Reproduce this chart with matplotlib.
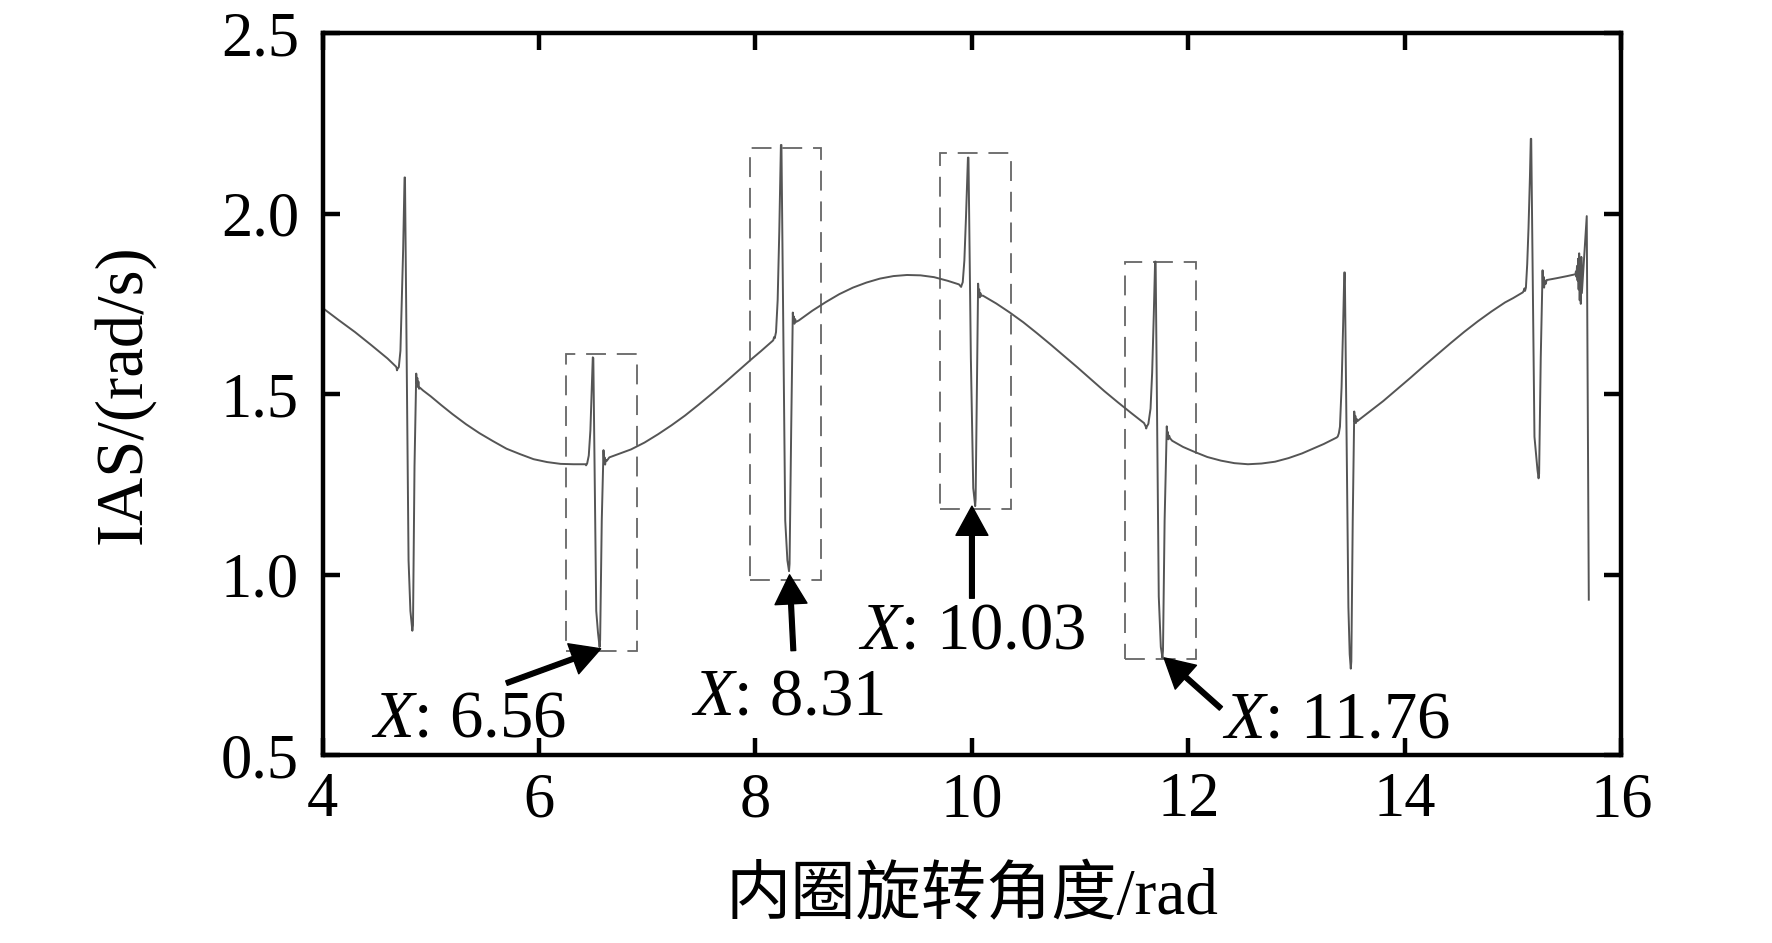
import numpy as np
import matplotlib
matplotlib.use('Agg')
import matplotlib.pyplot as plt
from matplotlib.patches import Rectangle

# ================= 样式 =================
plt.rcParams['font.family'] = ['Liberation Serif', 'Noto Sans CJK SC']
plt.rcParams['mathtext.fontset'] = 'custom'
plt.rcParams['mathtext.rm'] = 'Liberation Serif'
plt.rcParams['mathtext.it'] = 'Liberation Serif:italic'

# ================= 数据 =================
# 内圈旋转角度 / rad
angle = [
    4.00, 4.15, 4.30, 4.45, 4.60, 4.68,
    # 冲击 1
    4.685, 4.688, 4.693, 4.705, 4.72, 4.733, 4.745, 4.758, 4.762, 4.795, 4.812,
    4.830, 4.836, 4.850, 4.866, 4.871, 4.876, 4.881, 4.886, 4.892, 4.90, 4.93,
    5.00, 5.10, 5.20, 5.325, 5.45, 5.575, 5.70, 5.825, 5.95, 6.075, 6.20, 6.32,
    6.43,
    # 冲击 2
    6.435, 6.445, 6.46, 6.475, 6.488, 6.497, 6.502, 6.529, 6.545, 6.560, 6.565,
    6.580, 6.596, 6.601, 6.606, 6.611, 6.617, 6.625, 6.65,
    6.85, 6.975, 7.10, 7.225, 7.35, 7.475, 7.60, 7.725, 7.85, 7.975, 8.05, 8.16,
    # 冲击 3
    8.165, 8.172, 8.178, 8.19, 8.205, 8.22, 8.235, 8.24, 8.275, 8.295, 8.310,
    8.315, 8.33, 8.345, 8.350, 8.355, 8.360, 8.366, 8.375, 8.40,
    8.525, 8.65, 8.775, 8.90, 9.025, 9.15, 9.275, 9.40, 9.525, 9.65, 9.775, 9.88,
    # 冲击 4
    9.90, 9.905, 9.915, 9.93, 9.945, 9.963, 9.968, 9.99, 10.012, 10.030, 10.034,
    10.045, 10.057, 10.062, 10.067, 10.072, 10.078, 10.085, 10.10,
    10.225, 10.35, 10.475, 10.60, 10.725, 10.85, 10.975, 11.10, 11.225, 11.35,
    11.475, 11.59,
    # 冲击 5
    11.605, 11.61, 11.615, 11.63, 11.65, 11.665, 11.68, 11.692, 11.697, 11.726,
    11.745, 11.760, 11.765, 11.78, 11.800, 11.805, 11.810, 11.815, 11.822, 11.83,
    11.85,
    11.95, 12.05, 12.175, 12.30, 12.425, 12.55, 12.675, 12.80, 12.925, 13.05,
    13.15, 13.25, 13.37,
    # 冲击 6
    13.38, 13.39, 13.40, 13.415, 13.43, 13.440, 13.445, 13.478, 13.49, 13.500,
    13.505, 13.518, 13.532, 13.537, 13.542, 13.547, 13.553, 13.56, 13.58,
    13.80, 13.925, 14.05, 14.175, 14.30, 14.425, 14.55, 14.675, 14.80, 14.925,
    15.00, 15.09,
    # 冲击 7
    15.10, 15.105, 15.11, 15.118, 15.13, 15.142, 15.155, 15.163, 15.167, 15.197,
    15.225, 15.235, 15.240, 15.255, 15.272, 15.276, 15.281, 15.286, 15.292, 15.30,
    15.31,
    15.40, 15.50, 15.575,
    # 末端
    15.58, 15.585, 15.59, 15.595, 15.60, 15.605, 15.61, 15.615, 15.62, 15.625,
    15.63, 15.635, 15.68, 15.699,
]
# IAS / (rad/s)
ias = [
    1.739, 1.705, 1.672, 1.636, 1.599, 1.576,
    1.572, 1.566, 1.570, 1.575, 1.62, 1.76, 1.90, 2.10, 2.10, 1.04, 0.90,
    0.845, 0.86, 1.30, 1.557, 1.53, 1.545, 1.52, 1.535, 1.515, 1.518, 1.510,
    1.494, 1.469, 1.445, 1.417, 1.392, 1.370, 1.349, 1.334, 1.320, 1.312, 1.307,
    1.306, 1.306,
    1.303, 1.308, 1.33, 1.40, 1.52, 1.602, 1.60, 0.90, 0.84, 0.80, 0.82,
    1.15, 1.345, 1.31, 1.325, 1.305, 1.318, 1.315, 1.325,
    1.347, 1.366, 1.389, 1.414, 1.441, 1.471, 1.502, 1.534, 1.567, 1.600, 1.619,
    1.648,
    1.650, 1.658, 1.655, 1.672, 1.76, 1.95, 2.19, 2.19, 1.15, 1.04, 1.01,
    1.03, 1.40, 1.726, 1.70, 1.715, 1.695, 1.708, 1.70, 1.704,
    1.731, 1.755, 1.777, 1.795, 1.809, 1.820, 1.827, 1.830, 1.829, 1.824, 1.814,
    1.804,
    1.797, 1.802, 1.81, 1.87, 1.99, 2.155, 2.155, 1.60, 1.24, 1.19, 1.21,
    1.50, 1.806, 1.775, 1.79, 1.768, 1.78, 1.772, 1.773,
    1.751, 1.726, 1.699, 1.669, 1.638, 1.606, 1.574, 1.541, 1.508, 1.477,
    1.447, 1.420,
    1.411, 1.405, 1.410, 1.418, 1.46, 1.56, 1.72, 1.867, 1.867, 0.94,
    0.80, 0.77, 0.79, 1.15, 1.411, 1.385, 1.395, 1.375, 1.385, 1.378,
    1.371,
    1.354, 1.341, 1.326, 1.316, 1.309, 1.306, 1.308, 1.313, 1.323, 1.336,
    1.349, 1.362, 1.380,
    1.383, 1.392, 1.41, 1.52, 1.70, 1.837, 1.837, 0.91, 0.78, 0.74,
    0.76, 1.15, 1.452, 1.425, 1.44, 1.42, 1.432, 1.425, 1.43,
    1.481, 1.513, 1.545, 1.578, 1.610, 1.642, 1.673, 1.702, 1.729, 1.754,
    1.766, 1.782,
    1.788, 1.793, 1.786, 1.795, 1.86, 1.96, 2.10, 2.207, 2.207, 1.382,
    1.29, 1.267, 1.28, 1.60, 1.843, 1.80, 1.825, 1.795, 1.815, 1.805,
    1.816,
    1.821, 1.827, 1.832,
    1.84, 1.825, 1.855, 1.815, 1.875, 1.79, 1.89, 1.76, 1.86, 1.75,
    1.88, 1.78, 1.993, 0.931,
]

# 虚线框
box_left = [6.25, 7.95, 9.706, 11.418]
box_right = [6.91, 8.607, 10.36, 12.071]
box_bottom = [0.79, 0.985, 1.183, 0.766]
box_top = [1.612, 2.182, 2.167, 1.867]

# 标注
label_value = ['6.56', '8.31', '10.03', '11.76']
label_x = [4.45, 7.40, 8.95, 12.31]
label_y = [0.552, 0.612, 0.795, 0.550]
tail_x = [5.70, 8.35, 10.00, 12.30]
tail_y = [0.70, 0.79, 0.935, 0.63]
tip_x = [6.57, 8.315, 10.00, 11.775]
tip_y = [0.795, 1.00, 1.19, 0.77]

xticks = [4, 6, 8, 10, 12, 14, 16]
yticks = [0.5, 1.0, 1.5, 2.0, 2.5]

# ================= 绘图 =================
fig = plt.figure(figsize=(17.72, 9.43), dpi=100)
ax = fig.add_axes([0.182, 0.199, 0.733, 0.766])

ax.plot(angle, ias, color='#555555', linewidth=1.4)

for l, r, b, t in zip(box_left, box_right, box_bottom, box_top):
    ax.add_patch(Rectangle((l, b), r - l, t - b, fill=False, edgecolor='#666666',
                           linewidth=1.3, linestyle=(0, (11, 6))))

for v, lx, ly, ax0, ay0, ax1, ay1 in zip(label_value, label_x, label_y,
                                         tail_x, tail_y, tip_x, tip_y):
    ax.annotate('', xy=(ax1, ay1), xytext=(ax0, ay0),
                arrowprops=dict(facecolor='black', edgecolor='black', width=3.4,
                                headwidth=23, headlength=21, shrink=0))
    ax.text(lx, ly, r'$X$: ' + v, fontsize=48, ha='left', va='baseline')

ax.set_xlim(4, 16)
ax.set_ylim(0.5, 2.5)
ax.set_xticks(xticks)
ax.set_yticks(yticks)
ax.set_yticklabels([f'{v:.1f}' for v in yticks])

for s in ax.spines.values():
    s.set_linewidth(3.2)
ax.tick_params(direction='in', length=12, width=3.2, labelsize=45,
               top=True, right=True)
ax.tick_params(axis='x', pad=12)
ax.tick_params(axis='y', pad=17)

ax.set_ylabel('IAS/(rad/s)', fontsize=48)
ax.yaxis.set_label_coords(-0.129, 0.5)
ax.set_xlabel('内圈旋转角度/rad', fontsize=47)
ax.xaxis.label.set_va('center')
ax.xaxis.set_label_coords(0.5, -0.197)

fig.savefig('out.png', dpi=100)
